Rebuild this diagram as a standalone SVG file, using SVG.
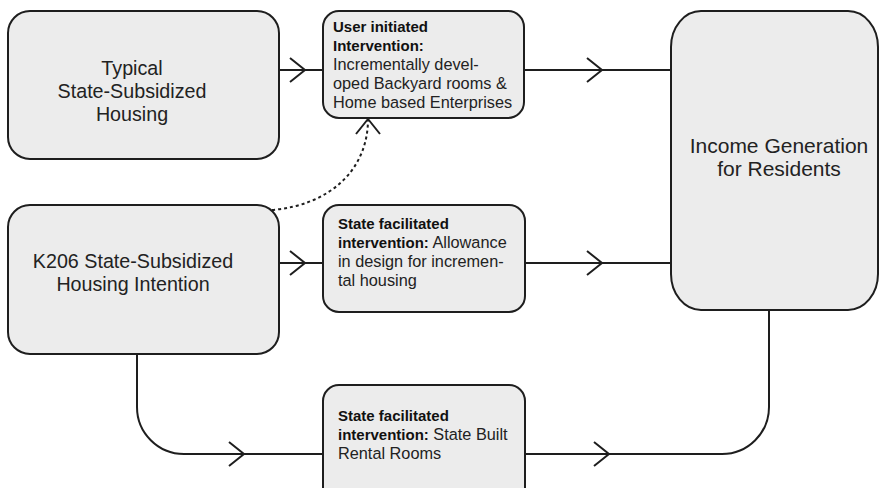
<svg xmlns="http://www.w3.org/2000/svg" width="879" height="488" viewBox="0 0 879 488">
<style>
.box{fill:#ececec;stroke:#1e1e1e;stroke-width:2}
.lbl{font-family:"Liberation Sans",Arial,sans-serif;fill:#222}
.big{font-size:19.7px}
.xl{font-size:21px}
.sm{font-size:16.3px}
.b{font-weight:bold;font-size:15px;fill:#111}
.con{fill:none;stroke:#1e1e1e;stroke-width:2}
.dot{fill:none;stroke:#1e1e1e;stroke-width:2;stroke-dasharray:3 3}
</style>
<defs>
<marker id="chev" viewBox="-18 -14 20 28" markerWidth="20" markerHeight="28" refX="0" refY="0" orient="auto" markerUnits="userSpaceOnUse" overflow="visible">
<path d="M-15,-12 L0,0 L-15,12" fill="none" stroke="#1e1e1e" stroke-width="2" stroke-dasharray="none"/>
</marker>
</defs>
<g id="connectors">
<path class="con" d="M279,70 L305,70 L323,70" marker-mid="url(#chev)"/>
<path class="con" d="M524,70 L602,70 L671,70" marker-mid="url(#chev)"/>
<path class="con" d="M279,263 L305,263 L323,263" marker-mid="url(#chev)"/>
<path class="con" d="M525,263 L602,263 L671,263" marker-mid="url(#chev)"/>
<path class="con" d="M137,354 L137,407 A47,47 0 0 0 184,454"/>
<path class="con" d="M184,454 L244,454 L323,454" marker-mid="url(#chev)"/>
<path class="con" d="M525,454 L609,454 L722,454" marker-mid="url(#chev)"/>
<path class="con" d="M722,454 A47,47 0 0 0 769,407 L769,310"/>
<path class="dot" d="M272,210 C330,205 368,170 368,119" marker-end="url(#chev)"/>
</g>
<g id="typical">
<rect class="box" x="8" y="11" width="271" height="148" rx="22"/>
<text class="lbl big" text-anchor="middle" x="132" y="75">Typical</text>
<text class="lbl big" text-anchor="middle" x="132" y="98">State-Subsidized</text>
<text class="lbl big" text-anchor="middle" x="132" y="121">Housing</text>
</g>
<g id="k206">
<rect class="box" x="8" y="205" width="271" height="149" rx="22"/>
<text class="lbl big" text-anchor="middle" x="133" y="268">K206 State-Subsidized</text>
<text class="lbl big" text-anchor="middle" x="133" y="291">Housing Intention</text>
</g>
<g id="user">
<rect class="box" x="323" y="11" width="201" height="107" rx="16"/>
<text class="lbl b" x="333" y="32">User initiated</text>
<text class="lbl b" x="333" y="51">Intervention:</text>
<text class="lbl sm" x="333" y="70">Incrementally devel-</text>
<text class="lbl sm" x="333" y="89">oped Backyard rooms &amp;</text>
<text class="lbl sm" x="333" y="108">Home based Enterprises</text>
</g>
<g id="allowance">
<rect class="box" x="323" y="205" width="202" height="107" rx="16"/>
<text class="lbl b" x="338" y="229">State facilitated</text>
<text class="lbl" x="338" y="248"><tspan class="b">intervention:</tspan><tspan class="sm"> Allowance</tspan></text>
<text class="lbl sm" x="338" y="267">in design for incremen-</text>
<text class="lbl sm" x="338" y="286">tal housing</text>
</g>
<g id="rental">
<rect class="box" x="323" y="385" width="202" height="118" rx="16"/>
<text class="lbl b" x="338" y="421">State facilitated</text>
<text class="lbl" x="338" y="440"><tspan class="b">intervention:</tspan><tspan class="sm"> State Built</tspan></text>
<text class="lbl sm" x="338" y="459">Rental Rooms</text>
</g>
<g id="income">
<rect class="box" x="671" y="11" width="207" height="299" rx="30" ry="36"/>
<text class="lbl xl" text-anchor="middle" x="779" y="153">Income Generation</text>
<text class="lbl xl" text-anchor="middle" x="779" y="176">for Residents</text>
</g>
</svg>
